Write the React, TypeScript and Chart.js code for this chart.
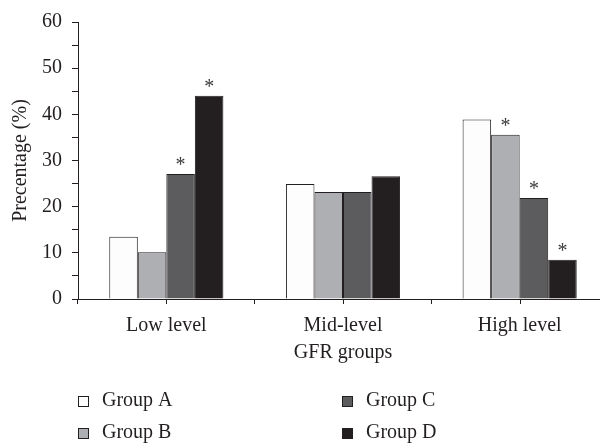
import React, { useEffect, useRef } from "react";
import { Chart, registerables } from "chart.js";

Chart.register(...registerables);

const categories = ["Low level", "Mid-level", "High level"];
const groupLabels = ["Group A", "Group B", "Group C", "Group D"];
const groupA = [13.5, 24.9, 38.9];
const groupB = [10.1, 23.2, 35.6];
const groupC = [27.1, 23.2, 21.9];
const groupD = [44.0, 26.6, 8.5];
const sigA = [false, false, false];
const sigB = [false, false, true];
const sigC = [true, false, true];
const sigD = [true, false, true];
const yTicks = [0, 10, 20, 30, 40, 50, 60];

const colors = ["#fdfdfd", "#aeafb2", "#5c5c5e", "#231f20"];
const ink = "#231f20";
const FONT = "'Liberation Serif', 'Times New Roman', serif";

export default function App() {
  const ref = useRef<HTMLCanvasElement | null>(null);
  useEffect(() => {
    if (!ref.current) return;
    const values = [groupA, groupB, groupC, groupD];
    const sigs = [sigA, sigB, sigC, sigD];

    const extras = {
      id: "extras",
      afterDatasetsDraw(chart: any) {
        const ctx = chart.ctx;
        ctx.save();
        ctx.fillStyle = "#3a3a3a";
        ctx.font = `20px ${FONT}`;
        ctx.textAlign = "center";
        ctx.textBaseline = "alphabetic";
        sigs.forEach((s, di) => {
          const meta = chart.getDatasetMeta(di);
          s.forEach((flag, i) => {
            if (!flag) return;
            const el = meta.data[i];
            ctx.fillText("*", el.x, el.y - 3);
          });
        });
        ctx.restore();
      },
      afterDraw(chart: any) {
        const ctx = chart.ctx;
        const x = chart.scales.x;
        const area = chart.chartArea;
        ctx.save();
        ctx.strokeStyle = ink;
        ctx.lineWidth = 1;
        categories.forEach((_, i) => {
          const px = Math.round(x.getPixelForValue(i)) + 0.5;
          ctx.beginPath();
          ctx.moveTo(px, area.bottom);
          ctx.lineTo(px, area.bottom + 5);
          ctx.stroke();
        });
        ctx.font = `20px ${FONT}`;
        ctx.textBaseline = "middle";
        ctx.textAlign = "left";
        const cols = [area.left, area.left + 264];
        const rows = [area.bottom + 102, area.bottom + 134];
        groupLabels.forEach((lab, i) => {
          const cx = cols[Math.floor(i / 2)];
          const cy = rows[i % 2];
          ctx.fillStyle = colors[i];
          ctx.fillRect(cx + 0.5, cy - 5 + 0.5, 10, 10);
          ctx.strokeStyle = ink;
          ctx.strokeRect(cx + 0.5, cy - 5 + 0.5, 10, 10);
          ctx.fillStyle = ink;
          ctx.fillText(lab, cx + 24, cy);
        });
        ctx.restore();
      },
    };

    const chart = new Chart(ref.current, {
      type: "bar",
      data: {
        labels: categories,
        datasets: groupLabels.map((lab, i) => ({
          label: lab,
          data: values[i],
          backgroundColor: colors[i],
          borderColor: ink,
          borderWidth: 1,
          barPercentage: 1,
          categoryPercentage: 0.646,
        })),
      },
      options: {
        responsive: false,
        animation: false,
        layout: { padding: { top: 19, left: 0, right: 0, bottom: 80 } },
        plugins: {
          legend: { display: false },
          tooltip: { enabled: false },
        },
        scales: {
          x: {
            afterFit(scale: any) {
              scale.height = 66;
            },
            grid: {
              drawOnChartArea: false,
              tickLength: 5,
              color: ink,
              offset: true,
            },
            border: { display: true, color: ink, width: 1 },
            ticks: {
              color: ink,
              padding: 10,
              font: { family: FONT, size: 20 },
              maxRotation: 0,
            },
            title: {
              display: true,
              text: "GFR groups",
              color: ink,
              font: { family: FONT, size: 20 },
              padding: { top: 0, bottom: 0 },
            },
          },
          y: {
            min: 0,
            max: 60,
            afterFit(scale: any) {
              scale.width = 78;
            },
            grid: {
              drawOnChartArea: false,
              tickLength: 6,
              color: ink,
            },
            border: { display: true, color: ink, width: 1 },
            ticks: {
              stepSize: 5,
              autoSkip: false,
              color: ink,
              padding: 10,
              font: { family: FONT, size: 20 },
              callback: (v: any) => (yTicks.includes(Number(v)) ? String(v) : ""),
            },
            title: {
              display: true,
              text: "Precentage (%)",
              color: ink,
              font: { family: FONT, size: 20 },
              padding: { top: 9, bottom: 0 },
            },
          },
        },
      },
      plugins: [extras],
    });
    return () => chart.destroy();
  }, []);

  return (
    <div
      style={{
        position: "fixed",
        left: 0,
        top: 0,
        width: 600,
        height: 445,
        overflow: "hidden",
        background: "#ffffff",
      }}
    >
      <canvas ref={ref} width={608} height={445} style={{ width: 608, height: 445, display: "block" }} />
    </div>
  );
}
